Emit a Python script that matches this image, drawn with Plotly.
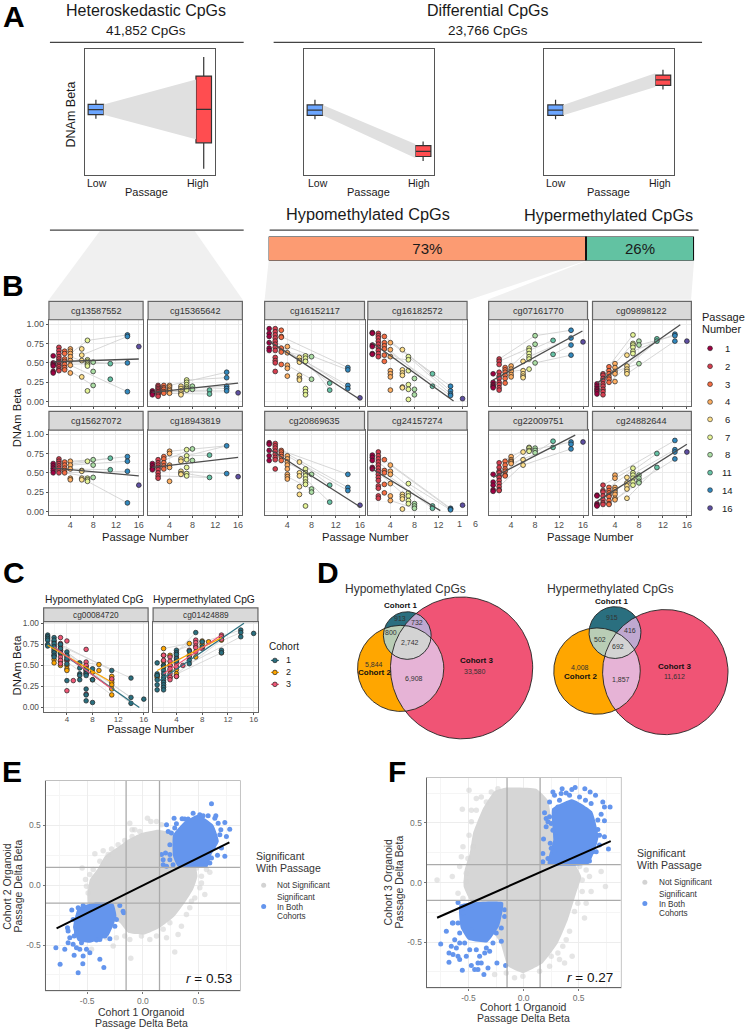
import plotly.graph_objects as go
import numpy as np

W, H = 747, 1032
FONT = "Liberation Sans"

# ---------- Panel A data: lower fence, q1, median, q3, upper fence ----------
A_PANELS = ["hetero", "hypo", "hyper"]
A_LOW = {"hetero": [.446, .479, .519, .561, .599], "hypo": [.443, .474, .515, .557, .599], "hyper": [.443, .474, .515, .557, .599]}
A_HIGH = {"hetero": [.048, .255, .522, .787, .938], "hypo": [.110, .146, .187, .232, .266], "hyper": [.679, .712, .756, .795, .837]}
A_BAND_HIGH = {"hetero": [.284, .76], "hypo": [.135, .245], "hyper": [.70, .81]}
BAR_LABELS = ["73%", "26%"]
BAR_SHARE = [74.6, 25.4]

# ---------- Panel B data ----------
PASSAGE_COLOURS = {1: "#9E0142", 2: "#D53E4F", 3: "#F46D43", 4: "#FDAE61", 6: "#FEE08B", 7: "#E6F598", 8: "#ABDDA4", 11: "#66C2A5", 14: "#3288BD", 16: "#5E4FA2"}
cg13587552 = {1: [.59, .50, .48, .46, .39, .37], 2: [.70, .66, .62, .58, .55, .52, .50, .47, .45, .42, .40], 3: [.65, .62, .55, .52, .48, .44, .41], 4: [.68, .65, .62, .58, .53, .47, .37], 6: [.68, .60, .53, .32], 7: [.79, .54, .52, .50, .48, .46, .14], 8: [.51, .39, .21], 11: [.49, .29], 14: [.86, .84, .50, .13], 16: [.71]}
cg15365642 = {1: [.14, .12, .11, .09], 2: [.21, .19, .17, .15, .13, .11, .09, .07], 3: [.21, .18, .16, .13, .11], 4: [.21, .19, .16, .14, .11], 6: [.20, .17, .14, .11, .09], 7: [.28, .25, .22, .19, .17, .15], 8: [.20, .16], 11: [.15, .10], 14: [.38, .31, .20, .17, .14], 16: [.115]}
cg15627072 = {1: [.62, .59, .56, .53, .50], 2: [.68, .65, .62, .59, .56, .53, .50], 3: [.64, .60, .56, .53, .50], 4: [.65, .60, .55, .43, .41], 6: [.53, .52, .43, .41], 7: [.65, .43, .41, .39], 8: [.67, .60, .44], 11: [.69, .54], 14: [.71, .65, .52, .11], 16: [.34]}
cg18943819 = {1: [.62, .59, .56, .54], 2: [.67, .63, .60, .57, .54, .50, .46, .43], 3: [.71, .68, .63, .59, .55], 4: [.78, .75, .60, .57, .39], 6: [.68, .65, .52, .49, .48], 7: [.80, .72, .67, .57, .49, .46], 8: [.81, .66], 11: [.73, .44], 14: [.85, .49], 16: [.45]}
cg16152117 = {1: [.94, .88, .84, .76, .69, .66], 2: [.94, .90, .86, .82, .78, .74, .70, .66, .57, .53, .50, .39], 3: [.92, .84, .83, .69, .64, .48], 4: [.71, .63, .47, .43, .33], 6: [.57, .53, .51, .34, .30, .28], 7: [.59, .56, .52, .17, .13, .09], 8: [.58, .29], 11: [.24, .15], 14: [.44, .41, .21, .17], 16: [.05]}
cg16182572 = {1: [.89, .88, .73, .71, .62, .61], 2: [.88, .85, .82, .78, .74, .70, .66, .62, .58], 3: [.84, .76, .72, .68, .60, .52], 4: [.76, .67, .58, .40, .36, .32, .15], 6: [.67, .41, .37, .34, .19, .18], 7: [.58, .54, .40, .22, .16, .03], 8: [.30, .16, .09], 11: [.36, .20], 14: [.20, .14, .10, .08], 16: [.04]}
cg20869635 = {1: [.89, .87, .79, .72, .66], 2: [.88, .85, .82, .78, .74, .70, .67, .55], 3: [.79, .77, .74, .71, .66], 4: [.72, .68, .64, .60, .55, .48, .45, .42], 6: [.64, .50, .46, .32, .22], 7: [.55, .50, .46, .42, .38, .35, .07], 8: [.48, .29, .25], 11: [.34, .12], 14: [.48, .31, .27], 16: [.08]}
cg24157274 = {1: [.73, .70, .66, .57, .55], 2: [.77, .72, .68, .64, .60, .56, .52, .48, .44, .40, .33, .30, .20, .17], 3: [.67, .53, .50, .35, .24], 4: [.60, .52, .48, .36, .20, .14], 6: [.22, .19, .16, .03], 7: [.36, .24, .20, .14, .10], 8: [.10, .07, .04], 11: [.07, .04], 14: [.04, .03, .02], 16: [.08]}
cg07161770 = {1: [.36, .25, .22, .20, .18], 2: [.55, .52, .48, .38, .33, .30, .25, .22, .18, .15], 3: [.44, .41, .38, .34, .30, .24], 4: [.46, .42, .39, .35, .32], 6: [.52, .40, .36, .33, .31], 7: [.69, .66, .62, .58, .55, .42], 8: [.85, .74, .50], 11: [.79, .61], 14: [.92, .82, .73, .60], 16: [.77]}
cg09898122 = {1: [.23, .20, .17, .15, .13, .10], 2: [.36, .34, .30, .27, .23, .20, .16, .13, .09], 3: [.45, .40, .36, .32, .29, .25], 4: [.49, .44, .39, .36, .26], 6: [.60, .46, .42, .39, .36], 7: [.86, .75, .73, .70, .65, .62], 8: [.78, .73, .49], 11: [.81, .78], 14: [.87, .85, .78], 16: [.78]}
cg22009751 = {1: [.48, .38, .34, .28, .26], 2: [.63, .57, .52, .50, .46, .44, .40, .36, .32, .28, .27], 3: [.65, .60, .55, .52, .47, .46], 4: [.71, .67, .65, .64, .62], 6: [.77, .67, .60], 7: [.83, .82, .79, .78], 8: [.82, .79, .76], 11: [.91, .83], 14: [.90, .87, .81], 16: [.90]}
cg24882644 = {1: [.21, .20, .10, .08, .07], 2: [.34, .27, .25, .20, .15, .11, .09], 3: [.31, .27, .24, .21, .19, .14, .10, .09], 4: [.47, .43, .31, .28, .25, .22, .17, .15], 6: [.44, .37, .33, .29, .17], 7: [.56, .50, .47, .43, .38, .34], 8: [.47, .43, .39, .37], 11: [.75, .57], 14: [.92, .80, .77, .68], 16: [.77]}

B_VALUES = {"cg13587552": cg13587552, "cg15365642": cg15365642, "cg16152117": cg16152117, "cg16182572": cg16182572, "cg07161770": cg07161770, "cg09898122": cg09898122,
            "cg15627072": cg15627072, "cg18943819": cg18943819, "cg20869635": cg20869635, "cg24157274": cg24157274, "cg22009751": cg22009751, "cg24882644": cg24882644}
B_TREND = {"cg13587552": [1, .515, 16, .55], "cg15365642": [1, .12, 16, .24], "cg16152117": [1, .78, 16, .03], "cg16182572": [1, .76, 14.5, .01], "cg07161770": [1, .28, 15.9, .91], "cg09898122": [1, .24, 14.9, .99],
           "cg15627072": [1, .56, 16, .46], "cg18943819": [1, .57, 16, .70], "cg20869635": [1, .81, 16, .06], "cg24157274": [1, .55, 12.3, .01], "cg22009751": [1, .44, 14.7, .99], "cg24882644": [1, .13, 16, .87]}
B_PAIRS = {
    "cg13587552": [(4, .62, 7, .79), (7, .79, 14, .86), (6, .60, 14, .84), (8, .51, 11, .49), (4, .47, 14, .13), (3, .44, 8, .21), (2, .48, 14, .50), (4, .58, 7, .50)],
    "cg15365642": [(4, .21, 14, .38), (7, .28, 14, .31), (6, .17, 14, .20), (4, .14, 11, .15), (3, .13, 14, .14), (2, .11, 11, .10), (7, .19, 14, .17)],
    "cg16152117": [(3, .84, 14, .44), (4, .71, 14, .41), (2, .78, 11, .24), (3, .69, 14, .21), (6, .57, 14, .17), (7, .56, 11, .15), (4, .47, 8, .29), (2, .66, 8, .58)],
    "cg16182572": [(3, .84, 11, .36), (4, .76, 14, .20), (6, .67, 14, .14), (3, .72, 11, .20), (7, .58, 14, .10), (2, .74, 14, .08), (2, .58, 7, .54)],
    "cg07161770": [(2, .55, 8, .85), (2, .52, 7, .69), (4, .46, 8, .74), (7, .66, 11, .79), (8, .85, 14, .92), (7, .58, 14, .82), (8, .50, 14, .60), (4, .39, 7, .42), (11, .61, 14, .73)],
    "cg09898122": [(2, .36, 7, .86), (4, .49, 7, .75), (6, .46, 11, .81), (7, .65, 14, .87), (6, .36, 14, .78), (4, .39, 8, .49), (8, .73, 14, .85), (3, .25, 11, .78)],
    "cg15627072": [(2, .62, 14, .71), (4, .65, 8, .67), (3, .60, 11, .69), (4, .60, 14, .65), (2, .50, 14, .52), (4, .55, 11, .54), (6, .43, 14, .11), (3, .50, 8, .44)],
    "cg18943819": [(2, .63, 8, .81), (4, .78, 14, .85), (7, .72, 14, .85), (3, .71, 11, .73), (6, .52, 14, .49), (2, .46, 11, .44), (7, .49, 11, .44)],
    "cg20869635": [(2, .82, 14, .48), (3, .79, 14, .31), (4, .72, 14, .27), (6, .64, 11, .34), (2, .70, 8, .48), (7, .42, 11, .12), (4, .45, 8, .29)],
    "cg24157274": [(2, .64, 11, .07), (3, .67, 14, .04), (4, .60, 14, .03), (2, .56, 11, .04), (6, .22, 8, .07), (1, .57, 8, .10), (7, .36, 14, .02), (4, .14, 8, .04)],
    "cg22009751": [(2, .63, 7, .83), (2, .52, 6, .77), (3, .52, 8, .82), (4, .62, 11, .83), (6, .60, 14, .81), (7, .79, 14, .90), (2, .32, 8, .76), (8, .76, 11, .91)],
    "cg24882644": [(3, .31, 11, .75), (2, .34, 7, .56), (4, .47, 14, .92), (6, .44, 14, .80), (4, .15, 8, .37), (6, .17, 11, .57), (7, .34, 14, .68), (3, .09, 7, .34)],
}
PASSAGE_LEGEND = ["1", "2", "3", "4", "6", "7", "8", "11", "14", "16"]

# ---------- Panel C data ----------
COHORT_COLOURS = {1: "#2A6F7F", 2: "#FFA600", 3: "#EF5675"}
C_HYPO = {
    1: {1: [.86, .84, .82, .80, .75, .73], 2: [.83, .80, .76, .72, .68, .65, .62, .60], 3: [.75, .70, .65], 4: [.66, .62, .58, .52, .32], 6: [.53, .47, .40, .38, .33], 7: [.45, .40, .38, .22, .15, .08], 8: [.46, .33, .06], 11: [.44], 14: [.35, .12, .05], 16: [.10]},
    2: {2: [.57, .53], 3: [.55, .50], 4: [.56, .50, .46, .44], 7: [.49, .44], 8: [.42, .33], 9: [.51, .44], 11: [.37, .33, .30, .27, .22, .15]},
    3: {2: [.78, .74, .70, .66, .62], 3: [.83, .76, .72, .68, .64, .60, .56, .52], 4: [.79, .60, .56, .20], 5: [.32], 7: [.69, .54, .50, .46, .42, .40, .16], 11: [.34]},
}
C_HYPER = {
    1: {1: [.53, .40, .38, .33, .27, .21], 2: [.50, .48, .44, .40, .36, .33, .30, .27, .24, .21], 4: [.68, .65, .63, .58, .55], 6: [.67, .60, .56, .52], 7: [.89], 8: [.78, .72], 11: [.68, .65], 14: [.92, .89, .84], 16: [.88]},
    2: {1: [.38, .36], 2: [.70, .62, .55], 3: [.62, .50, .44, .36], 4: [.45, .40, .37], 6: [.76, .62], 7: [.60], 8: [.79, .75], 9: [.78], 11: [.83, .80, .65]},
    3: {2: [.62, .56, .50], 3: [.60, .55, .50, .46, .40, .36, .33], 4: [.60, .56, .52, .48, .37], 5: [.50], 6: [.68], 7: [.80, .77, .73, .71, .66], 8: [.70], 11: [.86, .84, .81]},
}
C_TREND_HYPO = {1: [1, .76, 15.3, .0], 2: [1, .74, 11, .30], 3: [2, .72, 11, .22]}
C_TREND_HYPER = {1: [1, .30, 14.5, 1.0], 2: [1, .44, 11, .83], 3: [2, .40, 11, .86]}
C_PAIRS_HYPO = [(1, .80, 14, .35), (2, .76, 14, .12), (3, .75, 11, .44), (4, .66, 14, .05), (2, .68, 11, .30), (4, .62, 11, .22), (3, .60, 11, .15), (4, .56, 9, .51), (6, .53, 14, .12), (3, .70, 14, .05)]
C_PAIRS_HYPER = [(2, .70, 8, .79), (1, .53, 6, .76), (2, .50, 7, .89), (4, .68, 14, .92), (2, .33, 8, .72), (3, .36, 11, .65), (6, .52, 14, .84), (4, .40, 11, .80), (7, .66, 14, .89), (3, .50, 9, .78)]

# ---------- Panel D data: circle centre x, centre y, radius and region text ----------
COHORTS = ["Cohort 1", "Cohort 2", "Cohort 3"]
VENN_HYPO = [(407.8, 635, 23.9), (401.2, 668, 43.2), (462.2, 667.5, 71.2)]
VENN_HYPER = [(615.8, 632, 26), (597.8, 670.7, 43.3), (666.2, 671.7, 62.8)]
VENN_HYPO_COUNTS = [("913", 400.7, 618.3), ("732", 417.7, 621.7), ("800", 392, 631.7), ("2,742", 411, 642), ("5,844", 374.7, 664.3), ("33,580", 475.3, 670.7), ("6,908", 414.3, 677.7)]
VENN_HYPER_COUNTS = [("915", 613, 617.3), ("416", 631.3, 630.3), ("502", 601, 639.3), ("692", 619, 646), ("4,008", 581, 667.3), ("1,857", 621.7, 678.7), ("11,612", 675.3, 675.7)]

# ---------- Panels E, F data: cloud outlines and separately read points ----------
E_CLOUD_X = [-.497, -.476, -.401, -.341, -.237, -.132, -.012, .138, .257, .467, .491, .452, .377, .287, .153, .018, -.132, -.207, -.491]
E_CLOUD_Y = [-.078, .047, .144, .242, .311, .381, .436, .464, .436, .186, .075, -.036, -.147, -.258, -.356, -.411, -.397, -.314, -.147]
E_GREY_X = [-.545, -.476, -.431, -.356, -.281, -.222, -.162, -.096, -.096, -.027, .042, .072, .123, .168, -.117, -.072, .572, .602, .527, .557, .512, .467, .422, .317, .287, .243, .213, .183, .123, .063, -.012, -.117, -.108, -.162, -.237, -.266, -.461, -.326, .347, .392, .437, .527, .482, -.506, -.491, -.515, -.446, -.386, -.311]
E_GREY_Y = [.144, .089, .264, .289, .303, .339, .375, .464, .408, .45, .561, .533, .533, .506, .519, .464, .131, .108, .075, -.078, -.022, -.106, -.189, -.411, -.558, -.314, -.439, -.369, -.425, -.453, -.425, -.453, -.611, -.425, -.439, -.508, -.536, -.439, -.342, -.244, -.133, .019, .144, -.008, -.064, .047, .131, .2, .256]
E_UP_X = [.272, .377, .497, .632, .683, .617, .581, .317, .272]
E_UP_Y = [.422, .533, .589, .506, .367, .256, .153, .153, .242]
E_LOW_X = [-.581, -.431, -.266, -.237, -.311, -.476, -.581, -.626]
E_LOW_Y = [-.189, -.147, -.153, -.258, -.425, -.481, -.467, -.356]
E_BLUE_X = [.617, .281, .353, .452, .512, .213, .302, .407, .542, .587, .656, .737, .781, .701, .751, .671, .737, .168, .183, .228, .257, .243, .204, .243, .183, .272, .692, .707, .647, .677, .632, .602, .617, .377, .287, .243, .213,
            -.781, -.743, -.581, -.35, -.386, -.539, -.638, -.701, -.677, -.617, -.536, -.476, -.171, -.207, -.296, -.656, -.566, -.671, -.626, -.581, -.596, -.626, -.506, -.416, -.386, -.341, -.251, -.177, -.237, -.596, -.617, -.581, -.536, -.671, -.551]
E_BLUE_Y = [.681, .561, .556, .603, .589, .506, .514, .553, .581, .581, .581, .525, .469, .464, .408, .25, .242, .256, .172, .45, .436, .339, .269, .214, .214, .172, .422, .311, .561, .519, .311, .186, .228, .553, .478, .256, .158,
            -.522, -.661, -.731, -.689, -.619, -.656, -.208, -.536, -.356, -.586, -.592, -.564, -.231, -.169, -.447, -.439, -.536, -.481, -.286, -.286, -.397, -.494, -.536, -.458, -.453, -.425, -.342, -.217, -.286, -.522, -.425, -.189, -.169, -.383, -.481]
E_TREND = [-.775, -.361, .778, .358]

F_CLOUD_X = [-.263, -.157, .115, .221, .266, .462, .523, .477, .402, .311, .175, -.006, -.142, -.211, -.489, -.544, -.535, -.489, -.459, -.369]
F_CLOUD_Y = [.769, .797, .788, .691, .468, .162, .05, -.089, -.312, -.507, -.674, -.758, -.702, -.507, -.145, -.033, .106, .245, .412, .621]
F_GREY_X = [-.495, -.556, -.429, -.384, -.338, -.293, -.233, -.429, -.474, -.495, -.55, -.505, -.565, -.58, -.647, -.785, -.595, -.55, -.52, -.459, -.474, -.52,
            .568, .598, .704, .743, .613, .568, .532, .462, .553, .417, .387, .441, .372, .311, .251, .145, -.006, -.082, -.157, .236, -.263, .532, .492, .508, .356, .326]
F_GREY_Y = [.774, .616, .705, .719, .677, .76, .788, .607, .51, .398, .301, .203, .217, .134, .05, .022, -.089, -.131, .008, .301, .607, .078,
            .106, .05, .092, -.033, -.075, -.173, -.075, -.242, -.298, -.409, -.479, -.618, -.674, -.59, -.618, -.744, -.786, -.799, -.758, -.702, -.772, .022, -.173, .134, -.535, -.646]
F_UP_X = [.26, .44, .62, .68, .59, .22, .27]
F_UP_Y = [.62, .70, .60, .38, .156, .156, .36]
F_LOW_X = [-.58, -.187, -.22, -.33, -.50, -.57]
F_LOW_Y = [-.187, -.167, -.36, -.50, -.48, -.38]
F_BLUE_X = [.266, .35, .438, .468, .556, .604, .653, .719, .734, .785, .704, .734, .674, .734, .77, .689, .628, .598, .19, .221, .181, .175, .175, .281, .236, .387, .508, .562, .613, .326, .372, .281, .236, .205, .266, .242, .281, .221, .266, .674, .689, .659, .447, .311, .205, .251, .296, .251, .417, .341,
            -.752, -.701, -.646, -.677, -.677, -.556, -.61, -.64, -.58, -.474, -.414, -.36, -.323, -.242, -.163, -.399, -.489, -.595, -.172, -.202, -.308, -.338, -.474, -.625, -.58, -.595, -.55, -.429, -.64, -.656, -.384, -.444, -.535, -.278, -.353, -.248, -.202, -.172, -.58, -.52, -.595, -.414]
F_BLUE_Y = [.76, .788, .78, .797, .788, .76, .733, .677, .635, .635, .574, .518, .446, .384, .281, .315, .259, .181, .585, .51, .365, .245, .175, .733, .677, .752, .719, .691, .663, .691, .649, .607, .552, .468, .44, .329, .259, .203, .175, .524, .398, .259, .663, .635, .538, .496, .384, .287, .733, .747,
            -.515, -.409, -.34, -.591, -.669, -.735, -.549, -.604, -.646, -.696, -.73, -.772, -.716, -.674, -.696, -.618, -.563, -.167, -.284, -.493, -.577, -.549, -.396, -.479, -.423, -.34, -.256, -.563, -.34, -.535, -.674, -.73, -.507, -.507, -.591, -.423, -.382, -.228, -.507, -.618, -.618, -.674]
F_TREND = [-.785, -.295, .791, .348]

# ---------- helpers ----------
fig = go.Figure()
layout_axes = {}
shapes = []
annots = []
n_axes = [1]


def px(x):
    return x / W


def py(y):
    return 1 - y / H


def text(s, x, y, size, color="#1a1a1a", anchor="center", bold=False, angle=0):
    annots.append(dict(text=f"<b>{s}</b>" if bold else s, x=px(x), y=py(y), xref="paper", yref="paper", showarrow=False,
                       xanchor=anchor, yanchor="middle", textangle=angle, borderpad=0, borderwidth=0,
                       font=dict(size=size, color=color, family=FONT)))


def rule(x0, x1, y, color="#444444", width=1.2):
    shapes.append(dict(type="line", xref="paper", yref="paper", x0=px(x0), x1=px(x1), y0=py(y), y1=py(y), line=dict(color=color, width=width)))


def new_axes(x0, x1, y0, y1, xa, ya):
    n = n_axes[0]
    n_axes[0] += 1
    suffix = "" if n == 1 else str(n)
    layout_axes[f"xaxis{suffix}"] = dict(domain=[px(x0), px(x1)], anchor=f"y{suffix}", **xa)
    layout_axes[f"yaxis{suffix}"] = dict(domain=[py(y1), py(y0)], anchor=f"x{suffix}", **ya)
    return f"x{suffix}", f"y{suffix}"


# full-page pixel axis for connector wedges, Venn circles and legend keys
ovx, ovy = new_axes(0, W, 0, H, dict(range=[0, W], visible=False, fixedrange=True), dict(range=[H, 0], visible=False, fixedrange=True))
for xs, ys in [([100, 195, 243, 49], [229, 229, 298, 298]),
               ([269, 586, 470, 265], [259, 259, 298, 298]),
               ([587, 695, 692, 488], [259, 259, 298, 298])]:
    fig.add_trace(go.Scatter(x=xs + xs[:1], y=ys + ys[:1], xaxis=ovx, yaxis=ovy, mode="lines", fill="toself", fillcolor="#F0F0F0", line=dict(width=0), hoverinfo="skip"))

# ---------- Panel A ----------
A_BOXES = {"hetero": (84.7, 214.8), "hypo": (304, 434.5), "hyper": (545, 674.6)}
for name in A_PANELS:
    x0, x1 = A_BOXES[name]
    hidden = dict(showticklabels=False, ticks="", showgrid=False, zeroline=False, showline=True, mirror=True, linecolor="#555555", linewidth=1.3, fixedrange=True)
    xa, ya = new_axes(x0, x1, 46.5, 172.5, dict(range=[.895, 2.1], **hidden), dict(range=[0, 1], **hidden))
    low, high = A_LOW[name], A_HIGH[name]
    band = A_BAND_HIGH[name]
    fig.add_trace(go.Scatter(x=[1.072, 1.928, 1.928, 1.072, 1.072], y=[low[3], band[1], band[0], low[1], low[3]], xaxis=xa, yaxis=ya, mode="lines", fill="toself", fillcolor="#E0E0E0", line=dict(width=0), hoverinfo="skip"))
    for pos, v, col in [(1, low, "#6CA6FF"), (2, high, "#FF4D50")]:
        fig.add_trace(go.Box(x=[pos], lowerfence=[v[0]], q1=[v[1]], median=[v[2]], q3=[v[3]], upperfence=[v[4]], width=.144, whiskerwidth=0,
                             fillcolor=col, line=dict(color="#333333", width=1.2), xaxis=xa, yaxis=ya, hoverinfo="skip"))
text("Heteroskedastic CpGs", 146.5, 8, 16)
text("41,852 CpGs", 146.5, 28, 13.5)
text("Differential CpGs", 488.5, 8, 16)
text("23,766 CpGs", 488.5, 28, 13.5)
rule(50, 244, 39.5)
rule(274, 703, 39.5)
for lx, hx, px_ in [(97, 198.5, 146.5), (318, 420, 369), (557, 661, 609)]:
    text("Low", lx, 181, 10.5)
    text("High", hx, 181, 10.5)
    text("Passage", px_, 190, 11)
text("DNAm Beta", 71, 112, 12.5, angle=-90)
text("Hypomethylated CpGs", 368.5, 212, 16.3)
text("Hypermethylated CpGs", 609, 213, 16.3)
rule(50, 244, 228)
rule(270, 699.5, 228)
xa, ya = new_axes(269, 695, 234.5, 258.5, dict(range=[0, sum(BAR_SHARE)], visible=False, fixedrange=True), dict(range=[-.5, .5], visible=False, fixedrange=True))
for share, lab, col in zip(BAR_SHARE, BAR_LABELS, ["#FC9B72", "#62C2A2"]):
    fig.add_trace(go.Bar(x=[share], y=[0], orientation="h", width=1, text=[lab], textposition="inside", insidetextanchor="middle", textangle=0, cliponaxis=False,
                         textfont=dict(size=15, color="#1a1a1a", family=FONT), marker=dict(color=col, line=dict(color="#111111", width=1.3)), xaxis=xa, yaxis=ya, hoverinfo="skip"))

# ---------- shared ggplot-like axes ----------
GRID = "#EBEBEB"
MINOR = "#F5F5F5"


def gg_x(labels=True, vals=(4, 8, 12, 16), rng=(.25, 16.75), size=9, standoff=-1):
    return dict(range=list(rng), tickvals=list(vals), ticktext=[str(v) for v in vals] if labels else None, showticklabels=labels, ticks="outside", ticklen=2, tickwidth=.7, tickcolor="#555555",
                tickfont=dict(size=size, color="#4D4D4D"), showgrid=True, gridcolor=GRID, gridwidth=.8, zeroline=False, showline=True, mirror=True, linecolor="#666666", linewidth=1.2,
                minor=dict(tickvals=[2, 6, 10, 14], showgrid=True, gridcolor=MINOR, gridwidth=.5, ticks=""), fixedrange=True, ticklabelstandoff=standoff)


def gg_y(labels=True, rng=(-.051, 1.055), size=9):
    return dict(range=list(rng), tickvals=[0, .25, .5, .75, 1], ticktext=["0.00", "0.25", "0.50", "0.75", "1.00"], showticklabels=labels, ticks="outside" if labels else "", ticklen=2, tickwidth=.7, tickcolor="#555555",
                tickfont=dict(size=size, color="#4D4D4D"), showgrid=True, gridcolor=GRID, gridwidth=.8, zeroline=False, showline=True, mirror=True, linecolor="#666666", linewidth=1.2,
                minor=dict(tickvals=[.125, .375, .625, .875], showgrid=True, gridcolor=MINOR, gridwidth=.5, ticks=""), fixedrange=True)


def strip(x0, x1, y0, y1, label, size=9.2):
    shapes.append(dict(type="rect", xref="paper", yref="paper", x0=px(x0), x1=px(x1), y0=py(y1), y1=py(y0), fillcolor="#D9D9D9", line=dict(color="#666666", width=1.2)))
    text(label, (x0 + x1) / 2, (y0 + y1) / 2, size, color="#333333")


def pairs_xy(pairs):
    xs, ys = [], []
    for a, b, c, d in pairs:
        xs += [a, c, None]
        ys += [b, d, None]
    return xs, ys


# ---------- Panel B ----------
B_COLS = [(49, 143.3), (148.3, 242.7), (265, 365), (368.3, 467.7), (489.3, 588.3), (593.3, 692.3)]
B_ROWS = [(299.5, 318, 404.3), (410, 428.7, 514.3)]
B_ORDER = [["cg13587552", "cg15365642", "cg16152117", "cg16182572", "cg07161770", "cg09898122"],
           ["cg15627072", "cg18943819", "cg20869635", "cg24157274", "cg22009751", "cg24882644"]]
for r, row in enumerate(B_ORDER):
    s0, p0, p1 = B_ROWS[r]
    for c, name in enumerate(row):
        x0, x1 = B_COLS[c]
        vals = (4, 8, 12) if (r == 1 and c == 3) else (4, 8, 12, 16)
        xa, ya = new_axes(x0, x1, p0, p1, gg_x(labels=r == 1, vals=vals), gg_y(labels=c == 0))
        strip(x0, x1, s0, p0, name)
        lx, ly = pairs_xy(B_PAIRS[name])
        fig.add_trace(go.Scatter(x=lx, y=ly, xaxis=xa, yaxis=ya, mode="lines", line=dict(color="#D2D2D2", width=.9), hoverinfo="skip"))
        xs, ys, cs = [], [], []
        for p, v in B_VALUES[name].items():
            xs += [p] * len(v)
            ys += v
            cs += [PASSAGE_COLOURS[p]] * len(v)
        fig.add_trace(go.Scatter(x=xs, y=ys, xaxis=xa, yaxis=ya, mode="markers", marker=dict(size=4.8, color=cs, line=dict(color="#222222", width=.7)), hoverinfo="skip"))
        t = B_TREND[name]
        fig.add_trace(go.Scatter(x=[t[0], t[2]], y=[t[1], t[3]], xaxis=xa, yaxis=ya, mode="lines", line=dict(color="#4D4D4D", width=1.3), hoverinfo="skip"))
text("1", 460, 523, 9, color="#4D4D4D")
text("6", 475.7, 523, 9, color="#4D4D4D")
text("DNAm Beta", 17, 416, 11.2, angle=-90)
for cx in (146, 366, 590.8):
    text("Passage Number", cx, 536, 11.2)
text("Passage", 702.7, 315, 11, anchor="left")
text("Number", 702.7, 327, 11, anchor="left")
leg_y = [346.7, 364.7, 382.7, 400.5, 418, 436, 453.5, 471.5, 489, 507]
fig.add_trace(go.Scatter(x=[711] * 10, y=leg_y, xaxis=ovx, yaxis=ovy, mode="markers", marker=dict(size=4.8, color=list(PASSAGE_COLOURS.values()), line=dict(color="#222222", width=.6)), hoverinfo="skip"))
for lab, yy in zip(PASSAGE_LEGEND, leg_y):
    text(lab, 728, yy, 9.5)

# ---------- Panel C ----------
for (x0, x1), title, label, data, trend, pr, ylab, tcx in [
    ((43.7, 148.3), "Hypomethylated CpG", "cg00084720", C_HYPO, C_TREND_HYPO, C_PAIRS_HYPO, True, 94),
    ((153.3, 258.3), "Hypermethylated CpG", "cg01424889", C_HYPER, C_TREND_HYPER, C_PAIRS_HYPER, False, 203.8)]:
    xa, ya = new_axes(x0, x1, 621, 711.7, gg_x(rng=(.37, 16.67), size=8, standoff=-3), gg_y(labels=ylab, rng=(-.052, 1.02), size=8.3))
    strip(x0, x1, 607.3, 621, label, size=8.3)
    text(title, tcx, 599, 10.3)
    lx, ly = pairs_xy(pr)
    fig.add_trace(go.Scatter(x=lx, y=ly, xaxis=xa, yaxis=ya, mode="lines", line=dict(color="#D2D2D2", width=.8), hoverinfo="skip"))
    for k in (2, 3, 1):
        xs, ys = [], []
        for p, v in data[k].items():
            xs += [p] * len(v)
            ys += v
        fig.add_trace(go.Scatter(x=xs, y=ys, xaxis=xa, yaxis=ya, mode="markers", marker=dict(size=4.6, color=COHORT_COLOURS[k], line=dict(color="#222222", width=.7)), hoverinfo="skip"))
    for k in (1, 2, 3):
        t = trend[k]
        fig.add_trace(go.Scatter(x=[t[0], t[2]], y=[t[1], t[3]], xaxis=xa, yaxis=ya, mode="lines", line=dict(color=COHORT_COLOURS[k], width=1.2), hoverinfo="skip"))
text("DNAm Beta", 17, 665, 11.3, angle=-90)
text("Passage Number", 151, 729, 11.3)
text("Cohort", 269.3, 645.7, 10, anchor="left")
for k, yy in zip((1, 2, 3), (660, 672, 684)):
    fig.add_trace(go.Scatter(x=[271.3, 275.3, 279.3], y=[yy, yy, yy], xaxis=ovx, yaxis=ovy, mode="lines", line=dict(color=COHORT_COLOURS[k], width=1.2), hoverinfo="skip"))
    fig.add_trace(go.Scatter(x=[275.3], y=[yy], xaxis=ovx, yaxis=ovy, mode="markers", marker=dict(size=4.6, color=COHORT_COLOURS[k], line=dict(color="#222222", width=.7)), hoverinfo="skip"))
    text(str(k), 288.7, yy, 9)


# ---------- Panel D ----------
def circle_pts(c, n=361):
    t = np.linspace(0, 2 * np.pi, n)
    return c[0] + c[2] * np.cos(t), c[1] + c[2] * np.sin(t)


def lens(circles):
    xs, ys = [], []
    for i, c in enumerate(circles):
        cx, cy = circle_pts(c, 1441)
        keep = np.ones_like(cx, dtype=bool)
        for j, o in enumerate(circles):
            if j != i:
                keep &= (cx - o[0]) ** 2 + (cy - o[1]) ** 2 <= o[2] ** 2
        xs.append(cx[keep])
        ys.append(cy[keep])
    xs, ys = np.concatenate(xs), np.concatenate(ys)
    order = np.argsort(np.arctan2(ys - ys.mean(), xs - xs.mean()))
    xs, ys = xs[order], ys[order]
    return np.r_[xs, xs[0]], np.r_[ys, ys[0]]


def filled(xs, ys, colour):
    fig.add_trace(go.Scatter(x=list(xs), y=list(ys), xaxis=ovx, yaxis=ovy, mode="lines", fill="toself", fillcolor=colour, line=dict(width=0), hoverinfo="skip"))


for circ in (VENN_HYPO, VENN_HYPER):
    a, b, c = circ
    filled(*circle_pts(c), "#F05475")
    filled(*circle_pts(b), "#FFA600")
    filled(*lens([b, c]), "#E6B3D6")
    filled(*circle_pts(a), "#2A6F7F")
    filled(*lens([a, b]), "#B9CDB5")
    filled(*lens([a, c]), "#BFA8D0")
    filled(*lens([a, b, c]), "#D3D3D3")
    for k in circ:
        cx, cy = circle_pts(k)
        fig.add_trace(go.Scatter(x=list(cx), y=list(cy), xaxis=ovx, yaxis=ovy, mode="lines", line=dict(color="#222222", width=.9), hoverinfo="skip"))
text("Hypomethylated CpGs", 405.7, 588.3, 12, color="#333333")
text("Hypermethylated CpGs", 611, 588.3, 12.2, color="#333333")
for counts in (VENN_HYPO_COUNTS, VENN_HYPER_COUNTS):
    for s, x, y in counts:
        text(s, x, y, 7, color="#333333")
for lab, x, y in [(COHORTS[0], 401.3, 605), (COHORTS[1], 374.7, 672), (COHORTS[2], 476.7, 660), (COHORTS[0], 612.7, 601.3), (COHORTS[1], 581, 676.3), (COHORTS[2], 675.7, 666.3)]:
    text(lab, x, y, 8, bold=True, color="#111111")


# ---------- Panels E, F ----------
def scatter_panel(x0, x1, y0, y1, xr, yr, cx, cy, gx, gy, up, low, bx, by, trend, rtext, rx, ry):
    major = dict(showgrid=True, gridcolor="#EDEDED", gridwidth=.9, zeroline=False, showline=True, linecolor="#666666", linewidth=1.2, ticks="outside", ticklen=2, tickwidth=.7, tickcolor="#777777",
                 tickvals=[-.5, 0, .5], ticktext=["-0.5", "0.0", "0.5"], tickfont=dict(size=8.5, color="#6E6E6E"), fixedrange=True,
                 minor=dict(tickvals=[-.75, -.25, .25, .75], showgrid=True, gridcolor="#F5F5F5", gridwidth=.5, ticks=""))
    shapes.append(dict(type="rect", xref="paper", yref="paper", x0=px(x0), x1=px(x1), y0=py(y1), y1=py(y0), line=dict(color="#AAAAAA", width=1.4), layer="below"))
    xa, ya = new_axes(x0, x1, y0, y1, dict(range=xr, **major), dict(range=yr, **major))
    fig.add_trace(go.Scatter(x=cx + cx[:1], y=cy + cy[:1], xaxis=xa, yaxis=ya, mode="lines", fill="toself", fillcolor="#D6D6D6", line=dict(width=0, shape="spline", smoothing=.4), hoverinfo="skip"))
    fig.add_trace(go.Scatter(x=gx, y=gy, xaxis=xa, yaxis=ya, mode="markers", marker=dict(size=5.5, color="#D3D3D3", opacity=.6), hoverinfo="skip"))
    for poly in (up, low):
        fig.add_trace(go.Scatter(x=poly[0] + poly[0][:1], y=poly[1] + poly[1][:1], xaxis=xa, yaxis=ya, mode="lines", fill="toself", fillcolor="#6495ED", line=dict(width=0, shape="spline", smoothing=.4), hoverinfo="skip"))
    fig.add_trace(go.Scatter(x=bx, y=by, xaxis=xa, yaxis=ya, mode="markers", marker=dict(size=5, color="#6495ED"), hoverinfo="skip"))
    for v in (-.15, .15):
        fig.add_trace(go.Scatter(x=[v, v], y=yr, xaxis=xa, yaxis=ya, mode="lines", line=dict(color="#ABABAB", width=1.3), hoverinfo="skip"))
        fig.add_trace(go.Scatter(x=xr, y=[v, v], xaxis=xa, yaxis=ya, mode="lines", line=dict(color="#ABABAB", width=1.3), hoverinfo="skip"))
    fig.add_trace(go.Scatter(x=[trend[0], trend[2]], y=[trend[1], trend[3]], xaxis=xa, yaxis=ya, mode="lines", line=dict(color="#000000", width=2), hoverinfo="skip"))
    text(rtext, rx, ry, 13.5, color="#111111", anchor="right")


scatter_panel(45.7, 240.3, 781, 991.3, [-.873, .873], [-.88, .872], E_CLOUD_X, E_CLOUD_Y, E_GREY_X, E_GREY_Y, (E_UP_X, E_UP_Y), (E_LOW_X, E_LOW_Y), E_BLUE_X, E_BLUE_Y, E_TREND, "<i>r</i> = 0.53", 232.3, 979.7)
scatter_panel(427.3, 621.7, 777.7, 988.3, [-.879, .883], [-.88, .88], F_CLOUD_X, F_CLOUD_Y, F_GREY_X, F_GREY_Y, (F_UP_X, F_UP_Y), (F_LOW_X, F_LOW_Y), F_BLUE_X, F_BLUE_Y, F_TREND, "<i>r</i> = 0.27", 614.3, 978.3)
for (cx, y1, y2, t1x, t2x, cy, c_n, lx, dy0) in [(142, 1012.7, 1024.3, 7.5, 18.3, 886.7, "Cohort 2 Organoid", 256, 856.3), (524.3, 1008, 1019.3, 388.7, 399.7, 882.7, "Cohort 3 Organoid", 637.7, 853.3)]:
    text("Cohort 1 Organoid", cx, y1, 10.5, color="#333333")
    text("Passage Delta Beta", cx, y2, 10.5, color="#333333")
    text(c_n, t1x, cy, 10.5, color="#333333", angle=-90)
    text("Passage Delta Beta", t2x, cy, 10.5, color="#333333", angle=-90)
    text("Significant", lx, dy0, 10.5, color="#333333", anchor="left")
    text("With Passage", lx, dy0 + 11.7, 10.5, color="#333333", anchor="left")
    fig.add_trace(go.Scatter(x=[lx + 8, lx + 8], y=[dy0 + 29.4, dy0 + 50.7], xaxis=ovx, yaxis=ovy, mode="markers", marker=dict(size=5, color=["#D3D3D3", "#6495ED"]), hoverinfo="skip"))
    text("Not Significant", lx + 21.7, dy0 + 29.4, 8.2, color="#333333", anchor="left")
    text("Significant", lx + 21.7, dy0 + 42, 8.2, color="#333333", anchor="left")
    text("In Both", lx + 21.7, dy0 + 51.3, 8.2, color="#333333", anchor="left")
    text("Cohorts", lx + 21.7, dy0 + 60.4, 8.2, color="#333333", anchor="left")

# ---------- Panel letters ----------
for s, x, y in [("A", 14.5, 14), ("B", 13, 284), ("C", 14, 571.5), ("D", 328, 571.5), ("E", 12.5, 771), ("F", 398, 771)]:
    text(s, x, y, 30, color="#000000", bold=True)

fig.update_layout(width=W, height=H, margin=dict(l=0, r=0, t=0, b=0), autosize=False, paper_bgcolor="white", plot_bgcolor="white",
                  showlegend=False, barmode="stack", font=dict(family=FONT, color="#333333"), shapes=shapes, annotations=annots, hovermode=False, **layout_axes)
fig.write_html("out.html", config=dict(displayModeBar=False), post_script="document.body.style.margin='0';")
